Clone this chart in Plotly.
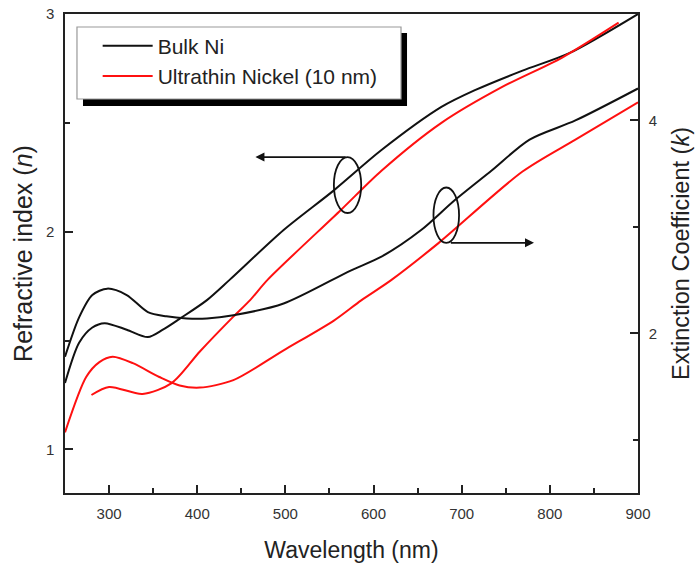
import plotly.graph_objects as go

# Wavelength (nm) and optical constants of nickel films
bulk_n_wl = [250, 266, 281, 295, 320, 344, 361, 380, 411, 437, 498, 555, 609, 677, 715, 769, 822, 900]
bulk_n = [1.305, 1.49, 1.56, 1.58, 1.55, 1.516, 1.55, 1.60, 1.686, 1.78, 2.008, 2.19, 2.375, 2.573, 2.65, 2.74, 2.82, 3.0]

thin_n_wl = [280, 300, 338, 371, 403, 441, 460, 480, 563, 609, 677, 746, 814, 878]
thin_n = [1.25, 1.287, 1.255, 1.305, 1.45, 1.61, 1.686, 1.78, 2.10, 2.28, 2.50, 2.665, 2.80, 2.96]

bulk_k_wl = [250, 266, 281, 298, 320, 344, 365, 388, 411, 441, 498, 574, 609, 654, 692, 734, 777, 829, 900]
bulk_k = [1.78, 2.15, 2.36, 2.42, 2.36, 2.20, 2.16, 2.14, 2.14, 2.17, 2.28, 2.59, 2.72, 2.97, 3.25, 3.53, 3.82, 4.0, 4.30]

thin_k_wl = [250, 274, 289, 304, 327, 357, 380, 403, 441, 498, 555, 586, 620, 674, 769, 829, 900]
thin_k = [1.07, 1.59, 1.73, 1.78, 1.72, 1.59, 1.51, 1.49, 1.56, 1.84, 2.12, 2.31, 2.50, 2.85, 3.52, 3.82, 4.17]

x_ticks = [300, 400, 500, 600, 700, 800, 900]
n_ticks = [1, 2, 3]
k_ticks = [2, 4]

BLACK = "#111111"
RED = "#ff1010"
AXIS = "#222222"
FONT = "Liberation Sans, Arial, sans-serif"

fig = go.Figure()
line_style = dict(width=2, shape="spline", smoothing=0.8)

fig.add_trace(go.Scatter(x=bulk_n_wl, y=bulk_n, mode="lines", name="Bulk Ni",
                         legendgroup="bulk", line=dict(color=BLACK, **line_style)))
fig.add_trace(go.Scatter(x=thin_n_wl, y=thin_n, mode="lines", name="Ultrathin Nickel (10 nm)",
                         legendgroup="thin", line=dict(color=RED, **line_style)))
fig.add_trace(go.Scatter(x=bulk_k_wl, y=bulk_k, mode="lines", name="Bulk Ni",
                         legendgroup="bulk", showlegend=False, yaxis="y2",
                         line=dict(color=BLACK, **line_style)))
fig.add_trace(go.Scatter(x=thin_k_wl, y=thin_k, mode="lines", name="Ultrathin Nickel (10 nm)",
                         legendgroup="thin", showlegend=False, yaxis="y2",
                         line=dict(color=RED, **line_style)))

axis_common = dict(showgrid=False, zeroline=False, showline=True, linecolor=AXIS, linewidth=1.5,
                   ticks="inside", ticklen=8, tickwidth=1.5, tickcolor=AXIS, automargin=False,
                   tickfont=dict(family=FONT, size=15, color="#333333"))


def title_font(size):
    return dict(family=FONT, size=size, color="#222222")


fig.update_layout(
    width=695, height=571,
    margin=dict(l=65, r=57, t=14, b=78),
    paper_bgcolor="white", plot_bgcolor="white",
    font=dict(family=FONT, color="#222222"),
    xaxis=dict(range=[250, 900], tickvals=x_ticks, mirror=True,
               minor=dict(ticks="inside", ticklen=5, tickwidth=1.5, tickcolor=AXIS, tick0=250, dtick=50),
               title=dict(text="Wavelength (nm)", standoff=21, font=title_font(23)),
               ticklabelstandoff=6, **axis_common),
    yaxis=dict(range=[0.8, 3.0], tickvals=n_ticks, mirror=True,
               minor=dict(ticks="inside", ticklen=5, tickwidth=1.5, tickcolor=AXIS, tick0=1, dtick=0.5),
               title=dict(text="Refractive index (<i>n</i>)", standoff=6, font=title_font(25)),
               ticklabelstandoff=6, **axis_common),
    yaxis2=dict(range=[0.5, 5.0], tickvals=k_ticks, overlaying="y", side="right",
                minor=dict(ticks="inside", ticklen=5, tickwidth=1.5, tickcolor=AXIS, tick0=1, dtick=1),
                title=dict(text="Extinction Coefficient (<i>k</i>)", standoff=16, font=title_font(23.5)),
                ticklabelstandoff=6, **axis_common),
    legend=dict(x=0.057, y=0.976, xanchor="left", yanchor="top", bgcolor="rgba(0,0,0,0)",
                borderwidth=0, font=dict(family=FONT, size=21, color="#222222"),
                itemwidth=50, tracegroupgap=0),
    showlegend=True,
)

# Legend frame with drop shadow
fig.add_shape(type="rect", xref="paper", yref="paper", x0=0.0314, x1=0.5969, y0=0.808, y1=0.9603,
              fillcolor="black", line=dict(width=0), layer="above")
fig.add_shape(type="rect", xref="paper", yref="paper", x0=0.0209, x1=0.5864, y0=0.8225, y1=0.9729,
              fillcolor="white", line=dict(color="#999999", width=1.2), layer="above")

# Ellipse grouping the n curves, arrow toward the left axis
fig.add_shape(type="circle", xref="x", yref="y", x0=555, x1=586, y0=2.086, y1=2.343,
              line=dict(color=BLACK, width=1.8))
fig.add_annotation(x=466, y=2.343, ax=570, ay=2.343, xref="x", yref="y", axref="x", ayref="y",
                   text="", showarrow=True, arrowhead=2, arrowsize=1, arrowwidth=1.8, arrowcolor=BLACK)

# Ellipse grouping the k curves, arrow toward the right axis
fig.add_shape(type="circle", xref="x", yref="y2", x0=668, x1=697, y0=2.85, y1=3.37,
              line=dict(color=BLACK, width=1.8))
fig.add_annotation(x=782, y=2.85, ax=686, ay=2.85, xref="x", yref="y2", axref="x", ayref="y2",
                   text="", showarrow=True, arrowhead=2, arrowsize=1, arrowwidth=1.8, arrowcolor=BLACK)

fig.write_html("out.html")
